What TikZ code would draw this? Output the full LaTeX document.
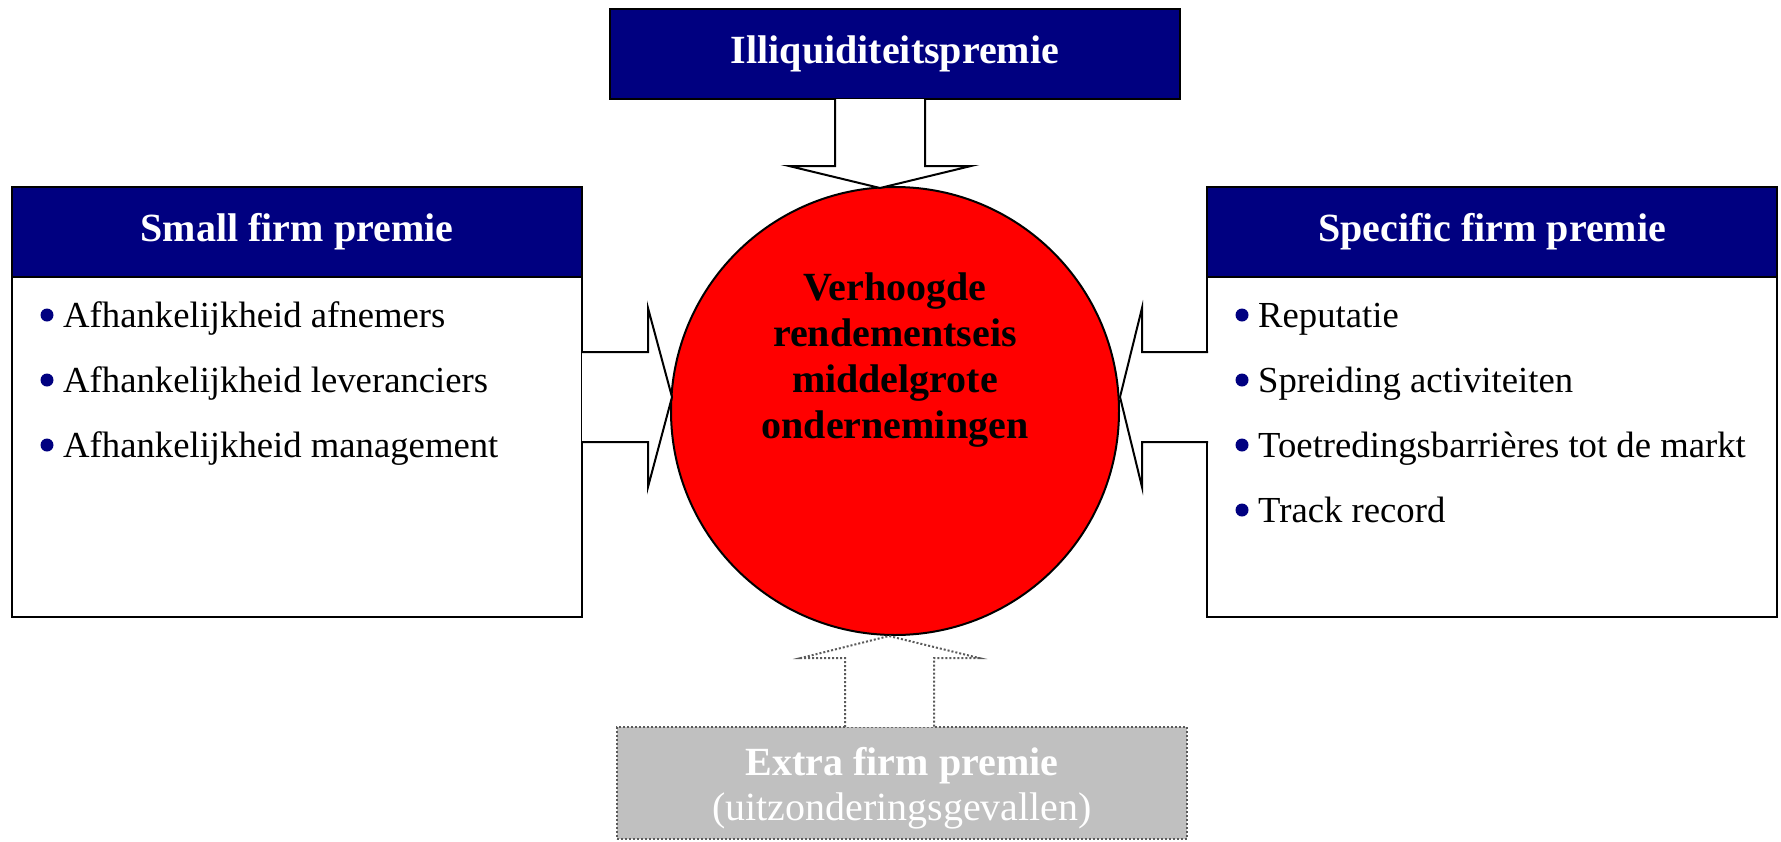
\documentclass[tikz,border=0pt]{standalone}
\usepackage{fontspec}
\setmainfont{Liberation Serif}
\definecolor{navy}{RGB}{0,0,128}
\definecolor{boxgray}{RGB}{192,192,192}
\definecolor{dotgray}{RGB}{90,90,90}
\begin{document}
\begin{tikzpicture}[x=1pt,y=-1pt,
  hdr/.style={draw=black, line width=2pt, fill=navy, text=white,
    font=\fontsize{40}{46}\selectfont\bfseries, minimum width=570pt,
    minimum height=90pt, inner sep=0pt, text height=27pt, text depth=9pt},
  bodybox/.style={draw=black, line width=2pt, fill=white, minimum width=570pt, inner sep=0pt},
  item/.style={anchor=base west, inner sep=0pt, font=\fontsize{36.7}{43}\selectfont},
  bul/.style={circle, fill=navy, minimum size=13pt, inner sep=0pt},
  blockarrow/.style={draw=black, line width=2pt, fill=white, line join=miter},
  dotarrow/.style={draw=dotgray, line width=2pt, dash pattern=on 2pt off 2pt, fill=white},
]
\useasboundingbox (0,0) rectangle (1781,841);
\fill[white] (0,0) rectangle (1781,841);

% left box
\node[bodybox, minimum height=340pt] (lbody) at (297,447) {};
\node[hdr] (lhead) at (297,232) {Small firm premie};
% right box
\node[bodybox, minimum height=340pt] (rbody) at (1492,447) {};
\node[hdr] (rhead) at (1492,232) {Specific firm premie};
% top box
\node[hdr] (ill) at (895,54) {Illiquiditeitspremie};
% bottom box
\node[draw=dotgray, dash pattern=on 2pt off 2pt, line width=2pt, fill=boxgray,
  minimum width=570pt, minimum height=112pt, inner sep=0pt] (extra) at (902,783) {};
\node[anchor=base, inner sep=0pt, text=white, font=\fontsize{40}{46}\selectfont\bfseries] (et1) at (902,775) {Extra firm premie};
\node[anchor=base, inner sep=0pt, text=white, font=\fontsize{40}{46}\selectfont] (et2) at (902,820) {(uitzonderingsgevallen)};

% circle
\node[circle, draw=black, line width=2pt, fill=red, minimum size=448pt, inner sep=0pt] (c) at (895,411) {};
\node[anchor=north, inner sep=0pt, align=center, font=\fontsize{40}{46}\selectfont\bfseries] (ct) at (895,273)
  {Verhoogde\\rendementseis\\middelgrote\\ondernemingen};

% block arrows
\draw[blockarrow] (582,352) -- (648,352) -- (648,308) -- (672,397) -- (648,487) -- (648,442) -- (582,442);
\draw[blockarrow] (1208,352) -- (1142,352) -- (1142,308) -- (1120,397) -- (1142,487) -- (1142,442) -- (1208,442);
\draw[blockarrow] (835,99) -- (835,166) -- (789,166) -- (880,188) -- (971,166) -- (925,166) -- (925,99);
\draw[dotarrow] (845,727) -- (845,658) -- (801,658) -- (889,636) -- (979,658) -- (934,658) -- (934,727);

% left items
\node[bul] (lb1) at (47,315) {};
\node[item] (li1) at (63,327) {Afhankelijkheid afnemers};
\node[bul] (lb2) at (47,380) {};
\node[item] (li2) at (63,392) {Afhankelijkheid leveranciers};
\node[bul] (lb3) at (47,445) {};
\node[item] (li3) at (63,457) {Afhankelijkheid management};

% right items
\node[bul] (rb1) at (1242,315) {};
\node[item] (ri1) at (1258,327) {Reputatie};
\node[bul] (rb2) at (1242,380) {};
\node[item] (ri2) at (1258,392) {Spreiding activiteiten};
\node[bul] (rb3) at (1242,445) {};
\node[item] (ri3) at (1258,457) {Toetredingsbarrières tot de markt};
\node[bul] (rb4) at (1242,510) {};
\node[item] (ri4) at (1258,522) {Track record};
\end{tikzpicture}
\end{document}
